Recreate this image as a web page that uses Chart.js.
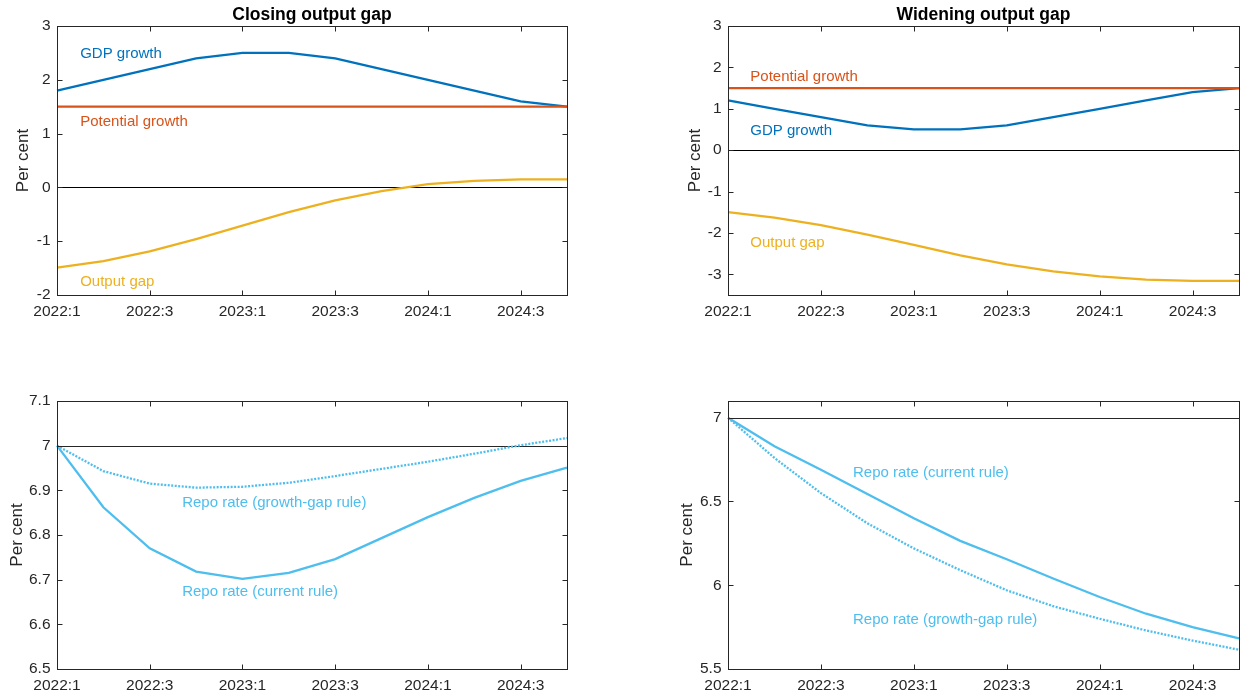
<!DOCTYPE html>
<html>
<head>
<meta charset="utf-8">
<script src="https://cdn.jsdelivr.net/npm/chart.js@4.4.1/dist/chart.umd.min.js"></script>
<style>
    body { margin: 0; background: #fff; width: 1241px; height: 699px; overflow: hidden; position: relative; }
    canvas { position: absolute; }
</style>
</head>
<body>
<canvas id="closingGrowth" width="620" height="340" style="left:0;top:0"></canvas>
<canvas id="wideningGrowth" width="621" height="340" style="left:620px;top:0"></canvas>
<canvas id="closingRepo" width="620" height="339" style="left:0;top:360px"></canvas>
<canvas id="wideningRepo" width="621" height="339" style="left:620px;top:360px"></canvas>
<script>
// quarters on the x axis, only every other one gets a label
const quarters = ["2022:1", "2022:2", "2022:3", "2022:4", "2023:1", "2023:2",
                  "2023:3", "2023:4", "2024:1", "2024:2", "2024:3", "2024:4"];
const xTickLabels = ["2022:1", "2022:3", "2023:1", "2023:3", "2024:1", "2024:3"];

// closing output gap scenario
const closingGdp = [1.8, 2.0, 2.2, 2.4, 2.5, 2.5, 2.4, 2.2, 2.0, 1.8, 1.6, 1.5];
const closingPotential = [1.5, 1.5, 1.5, 1.5, 1.5, 1.5, 1.5, 1.5, 1.5, 1.5, 1.5, 1.5];
const closingGap = [-1.49, -1.37, -1.19, -0.96, -0.71, -0.46, -0.24, -0.07, 0.06, 0.12, 0.15, 0.15];
const closingRepoCurrent = [7.0, 6.862, 6.770, 6.718, 6.702, 6.715, 6.746, 6.793, 6.840, 6.883, 6.921, 6.951];
const closingRepoGrowthGap = [7.0, 6.943, 6.915, 6.906, 6.908, 6.917, 6.932, 6.948, 6.964, 6.982, 7.001, 7.017];

// widening output gap scenario
const wideningGdp = [1.2, 1.0, 0.8, 0.6, 0.5, 0.5, 0.6, 0.8, 1.0, 1.2, 1.4, 1.5];
const wideningPotential = [1.5, 1.5, 1.5, 1.5, 1.5, 1.5, 1.5, 1.5, 1.5, 1.5, 1.5, 1.5];
const wideningGap = [-1.5, -1.63, -1.81, -2.04, -2.29, -2.54, -2.76, -2.93, -3.05, -3.13, -3.16, -3.16];
const wideningRepoCurrent = [7.0, 6.83, 6.69, 6.545, 6.40, 6.265, 6.155, 6.04, 5.93, 5.83, 5.75, 5.683];
const wideningRepoGrowthGap = [7.0, 6.76, 6.55, 6.37, 6.22, 6.09, 5.97, 5.875, 5.80, 5.73, 5.67, 5.615];

const BLUE = "#0072BD";
const ORANGE = "#D95319";
const YELLOW = "#EDB120";
const CYAN = "#4DBEEE";
const AXIS = "#262626";
const FONT = '"Liberation Sans", Arial, Helvetica, sans-serif';

// MATLAB-style box with inward ticks, reference line, title and text labels
const axesDecor = {
    id: "axesDecor",
    beforeDatasetsDraw(chart, args, opts) {
        const { ctx, chartArea: a } = chart;
        const y = Math.round(chart.scales.y.getPixelForValue(opts.refValue)) + 0.5;
        ctx.save();
        ctx.strokeStyle = opts.refColor;
        ctx.lineWidth = 1;
        ctx.beginPath();
        ctx.moveTo(a.left, y);
        ctx.lineTo(a.right, y);
        ctx.stroke();
        ctx.restore();
    },
    afterDraw(chart, args, opts) {
        const { ctx, chartArea: a, scales } = chart;
        const L = Math.round(a.left) + 0.5, R = Math.round(a.right) + 0.5;
        const T = Math.round(a.top) + 0.5, B = Math.round(a.bottom) + 0.5;
        ctx.save();
        ctx.strokeStyle = AXIS;
        ctx.lineWidth = 1;
        ctx.strokeRect(L, T, R - L, B - T);
        ctx.beginPath();
        scales.x.ticks.forEach((t, i) => {
            if (!t.label) return;
            const x = Math.round(scales.x.getPixelForTick(i)) + 0.5;
            ctx.moveTo(x, B); ctx.lineTo(x, B - 5);
            ctx.moveTo(x, T); ctx.lineTo(x, T + 5);
        });
        scales.y.ticks.forEach((t) => {
            const y = Math.round(scales.y.getPixelForValue(t.value)) + 0.5;
            ctx.moveTo(L, y); ctx.lineTo(L + 5, y);
            ctx.moveTo(R, y); ctx.lineTo(R - 5, y);
        });
        ctx.stroke();

        if (opts.title) {
            ctx.fillStyle = "#000";
            ctx.font = "bold 17.5px " + FONT;
            ctx.textAlign = "center";
            ctx.textBaseline = "alphabetic";
            ctx.fillText(opts.title, (a.left + a.right) / 2, a.top - 6.5);
        }

        ctx.font = "15px " + FONT;
        ctx.textAlign = "left";
        ctx.textBaseline = "middle";
        (opts.notes || []).forEach((n) => {
            ctx.fillStyle = n.color;
            ctx.fillText(n.text, scales.x.getPixelForValue(n.x), scales.y.getPixelForValue(n.y));
        });
        ctx.restore();
    }
};

function line(data, color, dotted) {
    return {
        data: data,
        borderColor: color,
        borderWidth: 2.3,
        borderDash: dotted ? [2, 1.5] : [],
        pointRadius: 0,
        tension: 0,
        fill: false
    };
}

function makePanel(id, p) {
    const canvas = document.getElementById(id);
    const n = p.datasets.length;
    p.datasets.forEach((d, i) => { d.order = n - i; });
    return new Chart(canvas, {
        type: "line",
        data: { labels: quarters, datasets: p.datasets },
        options: {
            responsive: false,
            animation: false,
            events: [],
            layout: {
                autoPadding: false,
                padding: { top: p.area.top, right: canvas.width - p.area.right, bottom: 0, left: 0 }
            },
            plugins: {
                legend: { display: false },
                tooltip: { enabled: false },
                axesDecor: { title: p.title, refValue: p.refValue, refColor: p.refColor, notes: p.notes }
            },
            scales: {
                x: {
                    type: "category",
                    offset: false,
                    grid: { display: false, drawTicks: false },
                    border: { display: false },
                    ticks: {
                        autoSkip: false,
                        maxRotation: 0,
                        padding: 7.5,
                        color: AXIS,
                        font: { family: FONT, size: 15.5 },
                        callback: (v, i) => xTickLabels.includes(quarters[i]) ? quarters[i] : ""
                    },
                    afterFit: (s) => {
                        s.height = canvas.height - p.area.bottom;
                        s.paddingLeft = 0;
                        s.paddingRight = 0;
                    }
                },
                y: {
                    min: p.yMin,
                    max: p.yMax,
                    grid: { display: false, drawTicks: false },
                    border: { display: false },
                    ticks: {
                        stepSize: p.yStep,
                        includeBounds: false,
                        padding: 6.5,
                        color: AXIS,
                        font: { family: FONT, size: 15.5 },
                        callback: (v) => String(Number(v.toFixed(2)))
                    },
                    title: {
                        display: true,
                        text: "Per cent",
                        color: AXIS,
                        font: { family: FONT, size: 17 },
                        padding: { top: p.yTitlePad, bottom: 0 }
                    },
                    afterFit: (s) => { s.width = p.area.left; }
                }
            }
        },
        plugins: [axesDecor]
    });
}

makePanel("closingGrowth", {
    title: "Closing output gap",
    area: { left: 57, right: 567, top: 26, bottom: 295 },
    yMin: -2, yMax: 3, yStep: 1,
    yTitlePad: 13.2,
    refValue: 0, refColor: "#000",
    datasets: [line(closingGdp, BLUE), line(closingPotential, ORANGE), line(closingGap, YELLOW)],
    notes: [
        { text: "GDP growth", x: 0.5, y: 2.48, color: BLUE },
        { text: "Potential growth", x: 0.5, y: 1.21, color: ORANGE },
        { text: "Output gap", x: 0.5, y: -1.75, color: YELLOW }
    ]
});

makePanel("wideningGrowth", {
    title: "Widening output gap",
    area: { left: 108, right: 619, top: 26, bottom: 295 },
    yMin: -3.5, yMax: 3, yStep: 1,
    yTitlePad: 65,
    refValue: 0, refColor: "#000",
    datasets: [line(wideningGdp, BLUE), line(wideningPotential, ORANGE), line(wideningGap, YELLOW)],
    notes: [
        { text: "Potential growth", x: 0.48, y: 1.76, color: ORANGE },
        { text: "GDP growth", x: 0.48, y: 0.46, color: BLUE },
        { text: "Output gap", x: 0.48, y: -2.25, color: YELLOW }
    ]
});

makePanel("closingRepo", {
    title: "",
    area: { left: 57, right: 567, top: 41, bottom: 309 },
    yMin: 6.5, yMax: 7.1, yStep: 0.1,
    yTitlePad: 6.7,
    refValue: 7, refColor: AXIS,
    datasets: [line(closingRepoCurrent, CYAN), line(closingRepoGrowthGap, CYAN, true)],
    notes: [
        { text: "Repo rate (growth-gap rule)", x: 2.7, y: 6.871, color: CYAN },
        { text: "Repo rate (current rule)", x: 2.7, y: 6.672, color: CYAN }
    ]
});

makePanel("wideningRepo", {
    title: "",
    area: { left: 108, right: 619, top: 41, bottom: 309 },
    yMin: 5.5, yMax: 7.1, yStep: 0.5,
    yTitlePad: 56.8,
    refValue: 7, refColor: AXIS,
    datasets: [line(wideningRepoCurrent, CYAN), line(wideningRepoGrowthGap, CYAN, true)],
    notes: [
        { text: "Repo rate (current rule)", x: 2.69, y: 6.669, color: CYAN },
        { text: "Repo rate (growth-gap rule)", x: 2.69, y: 5.794, color: CYAN }
    ]
});
</script>
</body>
</html>
